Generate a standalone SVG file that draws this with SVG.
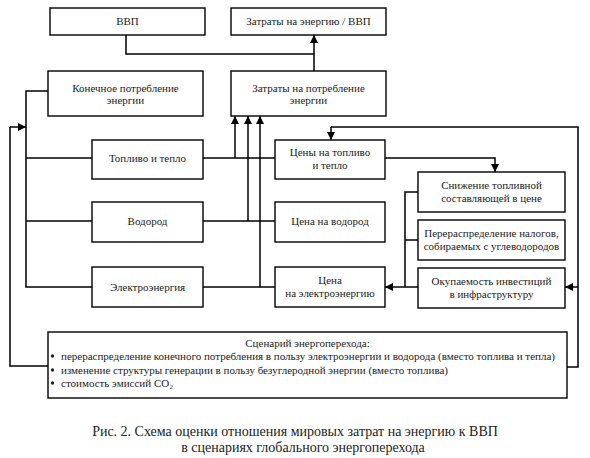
<svg xmlns="http://www.w3.org/2000/svg" width="590" height="458" viewBox="0 0 590 458">
<style>
.box{fill:#fff;stroke:#000;stroke-width:1.4}
.t{font-family:"Liberation Serif","Times New Roman",serif;font-size:11px;fill:#222;text-anchor:middle}
.s{font-family:"Liberation Serif","Times New Roman",serif;font-size:11px;fill:#222}
.cap{font-family:"Liberation Serif","Times New Roman",serif;font-size:14px;fill:#222;text-anchor:middle}
.ln{fill:none;stroke:#000;stroke-width:1.5}
.ar{fill:none;stroke:#000;stroke-width:1.5;marker-end:url(#ah)}
</style>
<defs>
<marker id="ah" viewBox="0 0 10 10" refX="10" refY="5" markerWidth="10" markerHeight="8" markerUnits="userSpaceOnUse" orient="auto">
<path d="M0,0 L10,5 L0,10 z" fill="#000"/>
</marker>
</defs>
<rect width="590" height="458" fill="#fff"/>
<g id="connectors">
<path class="ln" d="M126,35 V54 H314"/>
<path class="ar" d="M314,71 V35"/>
<path class="ln" d="M48,91 H26 V287 H92 M26,158 H92 M26,221 H92"/>
<path class="ln" d="M203,158 H275 M203,221 H275 M203,287 H275"/>
<path class="ar" d="M235,158 V116"/>
<path class="ar" d="M248,221 V116"/>
<path class="ar" d="M260,287 V116"/>
<path class="ar" d="M385,158 H495 V172"/>
<path class="ln" d="M567,367 H578 V127 H331"/>
<path class="ar" d="M331,127 V140"/>
<path class="ar" d="M578,287 H565"/>
<path class="ln" d="M418,192 H405 V287 M405,240 H418"/>
<path class="ar" d="M418,287 H385"/>
<path class="ln" d="M48,366 H10 V127"/>
<path class="ar" d="M10,127 H26"/>
</g>
<g id="n-vvp"><rect class="box" x="50" y="8" width="155" height="27"/><text class="t" x="127.5" y="25">ВВП</text></g>
<g id="n-ratio"><rect class="box" x="231" y="8" width="155" height="27"/><text class="t" x="308.5" y="25">Затраты на энергию / ВВП</text></g>
<g id="n-final"><rect class="box" x="48" y="71" width="155" height="45"/><text class="t" x="125.5" y="92">Конечное потребление</text><text class="t" x="125.5" y="104">энергии</text></g>
<g id="n-cost"><rect class="box" x="231" y="71" width="155" height="45"/><text class="t" x="308.5" y="92">Затраты на потребление</text><text class="t" x="308.5" y="104">энергии</text></g>
<g id="n-fuel"><rect class="box" x="92" y="140" width="111" height="39"/><text class="t" x="147.5" y="162">Топливо и тепло</text></g>
<g id="n-h2"><rect class="box" x="92" y="202" width="111" height="40"/><text class="t" x="147.5" y="225">Водород</text></g>
<g id="n-el"><rect class="box" x="92" y="267" width="111" height="40"/><text class="t" x="147.5" y="291">Электроэнергия</text></g>
<g id="n-pfuel"><rect class="box" x="275" y="140" width="110" height="39"/><text class="t" x="330" y="156">Цены на топливо</text><text class="t" x="330" y="169">и тепло</text></g>
<g id="n-ph2"><rect class="box" x="275" y="202" width="110" height="40"/><text class="t" x="330" y="225">Цена на водород</text></g>
<g id="n-pel"><rect class="box" x="275" y="267" width="110" height="40"/><text class="t" x="330" y="284">Цена</text><text class="t" x="330" y="297">на электроэнергию</text></g>
<g id="n-reduce"><rect class="box" x="418" y="172" width="147" height="40"/><text class="t" x="491.5" y="189">Снижение топливной</text><text class="t" x="491.5" y="202">составляющей в цене</text></g>
<g id="n-tax"><rect class="box" x="418" y="220" width="147" height="40"/><text class="t" x="491.5" y="237">Перераспределение налогов,</text><text class="t" x="491.5" y="250">собираемых с углеводородов</text></g>
<g id="n-invest"><rect class="box" x="418" y="268" width="147" height="40"/><text class="t" x="491.5" y="285">Окупаемость инвестиций</text><text class="t" x="491.5" y="298">в инфраструктуру</text></g>
<g id="n-scenario"><rect class="box" x="48" y="332" width="519" height="66"/>
<text class="s" x="307.5" y="346.5" text-anchor="middle">Сценарий энергоперехода:</text>
<circle cx="52.5" cy="356" r="1.7" fill="#222"/><text class="s" x="61" y="359.5">перераспределение конечного потребления в пользу электроэнергии и водорода (вместо топлива и тепла)</text>
<circle cx="52.5" cy="370" r="1.7" fill="#222"/><text class="s" x="61" y="373.5">изменение структуры генерации в пользу безуглеродной энергии (вместо топлива)</text>
<circle cx="52.5" cy="383" r="1.7" fill="#222"/><text class="s" x="61" y="386.5">стоимость эмиссий CO₂</text>
</g>
<text class="cap" x="295" y="436">Рис. 2. Схема оценки отношения мировых затрат на энергию к ВВП</text>
<text class="cap" x="303" y="452">в сценариях глобального энергоперехода</text>
</svg>
